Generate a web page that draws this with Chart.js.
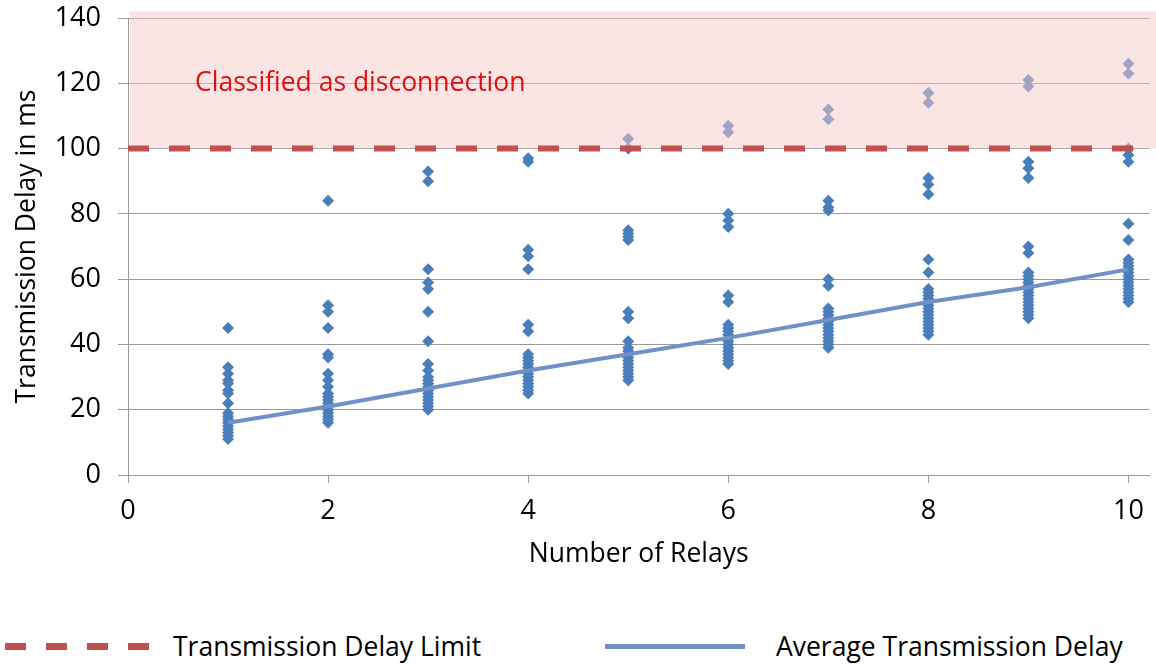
<!DOCTYPE html>
<html>
<head>
<meta charset="utf-8">
<script src="https://cdn.jsdelivr.net/npm/chart.js@4.4.1/dist/chart.umd.min.js"></script>
<style>
  body { margin: 0; background: #fff; font-family: "Open Sans", sans-serif; }
  #wrap { position: relative; width: 1156px; height: 664px; }
  #legend { position: absolute; left: 0; top: 610px; width: 1156px; height: 54px; }
  .swatch { position: absolute; }
  .label { position: absolute; font-size: 26.5px; line-height: 30px; color: #000; white-space: nowrap; }
</style>
</head>
<body>
<div id="wrap">
  <canvas id="delayChart" width="1156" height="610"></canvas>
  <div id="legend">
    <div class="swatch" style="left:5px; top:33px; width:145px; height:7px; background:repeating-linear-gradient(90deg, #c0504d 0 21px, transparent 21px 41px);"></div>
    <div class="label" style="left:173px; top:21px;">Transmission Delay Limit</div>
    <div class="swatch" style="left:605px; top:34px; width:140px; height:5px; background:#6f91c6;"></div>
    <div class="label" style="left:776px; top:21px;">Average Transmission Delay</div>
  </div>
</div>
<script>
// measured delays (ms) per number of relays
const relayCounts = [1, 2, 3, 4, 5, 6, 7, 8, 9, 10];
const delays1 = [45, 33, 31, 29, 28, 26, 25, 22, 19, 18, 17, 16, 15, 14, 13, 12, 11];
const delays2 = [84, 52, 50, 45, 37, 36, 31, 29, 27, 25, 24, 23, 22, 21, 20, 19, 18, 17, 16];
const delays3 = [93, 90, 63, 59, 57, 50, 41, 34, 32, 30, 29, 28, 27, 26, 25, 24, 23, 22, 21, 20];
const delays4 = [97, 96, 69, 67, 63, 46, 44, 37, 36, 35, 34, 33, 32, 31, 30, 29, 28, 27, 26, 25];
const delays5 = [103, 100, 75, 74, 73, 72, 50, 48, 41, 39, 38, 37, 36, 35, 34, 33, 32, 31, 30, 29];
const delays6 = [107, 105, 80, 78, 76, 55, 53, 46, 45, 44, 43, 42, 41, 40, 39, 38, 37, 36, 35, 34];
const delays7 = [112, 109, 84, 82, 81, 60, 58, 51, 50, 49, 48, 47, 46, 45, 44, 43, 42, 41, 40, 39];
const delays8 = [117, 114, 91, 89, 86, 66, 62, 57, 56, 55, 54, 53, 52, 51, 50, 49, 48, 47, 46, 45, 44, 43];
const delays9 = [121, 119, 96, 94, 91, 70, 68, 62, 61, 60, 59, 58, 57, 56, 55, 54, 53, 52, 51, 50, 49, 48];
const delays10 = [126, 123, 100, 98, 96, 77, 72, 66, 65, 64, 63, 62, 61, 60, 59, 58, 57, 56, 55, 54, 53];
const avgDelay = [16, 21, 26.5, 32, 37, 42, 47.5, 53, 57.5, 63];
const limitDelay = 100;
const zoneTop = 142;
const xMax = 10.21;

const allDelays = [delays1, delays2, delays3, delays4, delays5, delays6, delays7, delays8, delays9, delays10];

const samplePoints = [];
allDelays.forEach((list, i) => {
    list.forEach(d => samplePoints.push({ x: relayCounts[i], y: d }));
});

const avgPoints = relayCounts.map((r, i) => ({ x: r, y: avgDelay[i] }));
const limitPoints = [{ x: 0, y: limitDelay }, { x: xMax, y: limitDelay }];

const font = { family: '"Open Sans", sans-serif', size: 26.5 };
const tickFont = { family: '"Open Sans", sans-serif', size: 27 };

// pink band over the samples above the limit
const disconnectZone = {
    id: 'disconnectZone',
    afterDatasetDraw(chart, args) {
        if (args.index !== 2) return;
        const { ctx, chartArea, scales: { x, y } } = chart;
        const top = y.getPixelForValue(zoneTop);
        const bottom = y.getPixelForValue(limitDelay);
        ctx.save();
        ctx.fillStyle = 'rgba(247, 201, 201, 0.5)';
        ctx.fillRect(chartArea.left + 2, top, chart.width - chartArea.left - 2, bottom - top);
        ctx.fillStyle = '#dd1111';
        ctx.font = '26.5px "Open Sans", sans-serif';
        ctx.textBaseline = 'middle';
        ctx.fillText('Classified as disconnection', x.getPixelForValue(0.67), y.getPixelForValue(120));
        ctx.restore();
    }
};

new Chart(document.getElementById('delayChart'), {
    type: 'scatter',
    data: {
        datasets: [
            {
                label: 'Transmission Delay Limit',
                data: limitPoints,
                showLine: true,
                borderColor: '#c0504d',
                borderWidth: 6,
                borderDash: [21, 20],
                pointRadius: 0
            },
            {
                label: 'Average Transmission Delay',
                data: avgPoints,
                showLine: true,
                borderColor: '#6f91c6',
                borderWidth: 4,
                pointRadius: 0
            },
            {
                label: 'Delay',
                data: samplePoints,
                pointStyle: 'rectRot',
                pointRadius: 6,
                backgroundColor: '#4a7ebb',
                borderColor: '#4a7ebb',
                borderWidth: 0
            }
        ]
    },
    options: {
        responsive: false,
        animation: false,
        layout: { padding: { top: 18, right: 0, bottom: 0, left: 0 } },
        plugins: {
            legend: { display: false },
            tooltip: { enabled: false }
        },
        scales: {
            x: {
                type: 'linear',
                min: 0,
                max: xMax,
                ticks: { stepSize: 2, includeBounds: false, font: tickFont, color: '#000', padding: 12, maxRotation: 0 },
                grid: { drawOnChartArea: false, drawTicks: true, tickLength: 8, color: '#999' },
                border: { color: '#999' },
                title: { display: true, text: 'Number of Relays', font, color: '#000', padding: { top: 0, bottom: 40 } },
                afterFit: scale => { scale.height = 135; }
            },
            y: {
                min: 0,
                max: 140,
                ticks: { stepSize: 20, font: tickFont, color: '#000', padding: 17 },
                grid: { color: '#999', tickLength: 10 },
                border: { color: '#999' },
                title: { display: true, text: 'Transmission Delay in ms', font, color: '#000', padding: { top: 12, bottom: 0 } },
                afterFit: scale => { scale.width = 128; scale.paddingTop = 0; scale.paddingBottom = 0; }
            }
        }
    },
    plugins: [disconnectZone]
});
</script>
</body>
</html>
